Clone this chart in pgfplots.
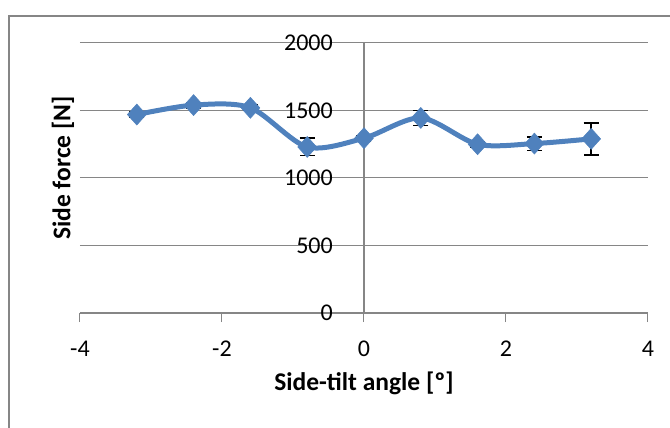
\documentclass[border=0pt]{standalone}
\usepackage{pgfplots}
\pgfplotsset{compat=1.18}
\usepackage{fontspec}
\setmainfont{Carlito}
\definecolor{exblue}{RGB}{79,129,189}
\definecolor{axgray}{RGB}{134,134,134}

\pgfplotstableread{
x y err
-3.2 1470 20
-2.4 1540 20
-1.6 1520 20
-0.8 1230 65
0 1295 20
0.8 1445 55
1.6 1250 20
2.4 1255 50
3.2 1290 118
}\sidedata

\begin{document}
\begin{tikzpicture}
\begin{axis}[
 scale only axis, width=568pt, height=270pt,
 xmin=-4, xmax=4, ymin=0, ymax=2000,
 axis x line=bottom, axis y line=left,
 y axis line style={draw=none},
 xtick={-4,-2,0,2,4}, ytick={0,500,1000,1500,2000},
 ymajorgrids, grid style={axgray, line width=1pt},
 axis line style={axgray, line width=1.5pt, -},
 tick style={axgray, line width=1pt},
 ytick style={draw=none},
 tick align=outside, major tick length=9pt,
 ticklabel style={font=\fontsize{24}{24}\selectfont, text=black},
 /pgf/number format/assume math mode=true,
 /pgf/number format/1000 sep={},
 xticklabel style={anchor=center, yshift=-27pt},
 yticklabel style={anchor=east, inner sep=0pt, xshift=262pt},
 every axis x label/.style={at={(axis description cs:0.5,-0.262)}, anchor=center},
 every axis y label/.style={at={(axis description cs:0,0.537)}, anchor=center, rotate=90, yshift=17pt},
 label style={font=\bfseries\fontsize{25.5}{25.5}\selectfont},
 xlabel={Side-tilt angle [º]}, ylabel={Side force [N]},
 clip=false,
]
\coordinate (O) at (axis cs:-4,0);
\draw[axgray, line width=1.5pt] (axis cs:0,0) -- (axis cs:0,2000);
\addplot[draw=none, mark=none, error bars/.cd, y dir=both, y explicit,
  error bar style={black, line width=1.5pt},
  error mark options={black, rotate=90, mark size=7.5pt, line width=1.5pt}]
  table[x=x, y=y, y error=err] {\sidedata};
\addplot[exblue, line width=5pt, smooth, tension=0.5, mark=diamond*, mark size=10.5pt,
  mark options={solid, fill=exblue, draw=exblue, line width=0.5pt, xscale=1.2}]
  table[x=x, y=y] {\sidedata};
\end{axis}
\draw[axgray, line width=2pt] ([shift={(-71pt,-115pt)}]O) -- ([shift={(-71pt,297pt)}]O) -- ([shift={(590pt,297pt)}]O);
\pgfresetboundingbox
\path[use as bounding box] ([shift={(-80pt,-115pt)}]O) rectangle ([shift={(590pt,313pt)}]O);
\end{tikzpicture}
\end{document}
